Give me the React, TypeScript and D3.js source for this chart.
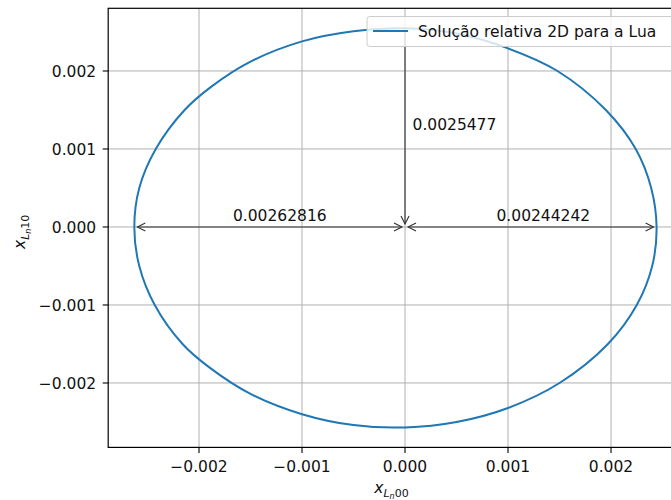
import React from "react";
import * as d3 from "d3";

// Orbit points (data units)
const orbitX = [
  0.00244242, 0.00239, 0.00224, 0.00195, 0.00148, 0.001, 0.0005, 0.0,
  -0.0005, -0.001, -0.0015, -0.00188, -0.00214, -0.00242, -0.00258, -0.00262816,
  -0.00258, -0.00243, -0.00216, -0.0019, -0.0015, -0.001, -0.0005, 0.0,
  0.0005, 0.001, 0.0015, 0.00197, 0.00225, 0.0024,
];
const orbitY = [
  0.0, 0.0005, 0.001, 0.0015, 0.002, 0.00229, 0.00248, 0.0025477,
  0.00251, 0.00238, 0.00212, 0.0018, 0.0015, 0.001, 0.0005, 0.0,
  -0.0005, -0.001, -0.0015, -0.0018, -0.00214, -0.0024, -0.00254, -0.00257,
  -0.0025, -0.00232, -0.002, -0.0015, -0.001, -0.0005,
];

const xTicks = [-0.002, -0.001, 0, 0.001, 0.002];
const yTicks = [-0.002, -0.001, 0, 0.001, 0.002];
const xTickLabels = ["−0.002", "−0.001", "0.000", "0.001", "0.002"];
const yTickLabels = ["−0.002", "−0.001", "0.000", "0.001", "0.002"];

const leftDist = 0.00262816;
const rightDist = 0.00244242;
const topDist = 0.0025477;
const leftLabelX = -0.001216;
const rightLabelX = 0.001343;
const legendLabel = "Solução relativa 2D para a Lua";

const W = 671;
const H = 500;
const plotLeft = 108.2;
const plotRight = 682.7;
const plotTop = 8.3;
const plotBottom = 447.4;

const FONT = "DejaVu Sans, sans-serif";
const FS = 15.5;

export default function App() {
  const pts: [number, number][] = orbitX.map((x, i) => [x, orbitY[i]]);
  const [xmin, xmax] = d3.extent(orbitX) as [number, number];
  const [ymin, ymax] = d3.extent(orbitY) as [number, number];
  const mx = (xmax - xmin) * 0.05;
  const my = (ymax - ymin) * 0.05;
  const x = d3.scaleLinear().domain([xmin - mx, xmax + mx]).range([plotLeft, plotRight]);
  const y = d3.scaleLinear().domain([ymin - my, ymax + my]).range([plotBottom, plotTop]);

  const line = d3
    .line<[number, number]>()
    .x((d) => x(d[0]))
    .y((d) => y(d[1]))
    .curve(d3.curveCatmullRomClosed.alpha(0.5));

  const arrowColor = "#333";
  const head = 8;
  const hw = 4;
  const openHead = (tx: number, ty: number, dx: number, dy: number, key: string) => {
    const bx = tx - dx * head;
    const by = ty - dy * head;
    const px = -dy * hw;
    const py = dx * hw;
    return (
      <path
        key={key}
        d={`M${bx + px},${by + py}L${tx},${ty}L${bx - px},${by - py}`}
        fill="none"
        stroke={arrowColor}
        strokeWidth={1.1}
      />
    );
  };

  const x0 = x(0);
  const y0 = y(0);
  const shrink = 3;
  const lx1 = x(-leftDist) + shrink;
  const lx2 = x0 - shrink;
  const rx1 = x0 + shrink;
  const rx2 = x(rightDist) - shrink;
  const vy1 = y(topDist) + shrink;
  const vy2 = y0 - shrink;

  return (
    <svg
      width={W}
      height={H}
      style={{ position: "absolute", left: 0, top: 0, background: "#fff" }}
      fontFamily={FONT}
    >
      <defs>
        <clipPath id="plotclip">
          <rect x={plotLeft} y={plotTop} width={plotRight - plotLeft} height={plotBottom - plotTop} />
        </clipPath>
      </defs>
      <rect x={0} y={0} width={W} height={H} fill="#fff" />
      <g stroke="#b0b0b0" strokeWidth={1}>
        {xTicks.map((t) => (
          <line key={"gx" + t} x1={x(t)} x2={x(t)} y1={plotTop} y2={plotBottom} />
        ))}
        {yTicks.map((t) => (
          <line key={"gy" + t} x1={plotLeft} x2={plotRight} y1={y(t)} y2={y(t)} />
        ))}
      </g>
      <g clipPath="url(#plotclip)">
        <path d={line(pts) || ""} fill="none" stroke="#1f77b4" strokeWidth={2} />
      </g>
      <g>
        <line x1={lx1} x2={lx2} y1={y0} y2={y0} stroke={arrowColor} strokeWidth={1.1} />
        {openHead(lx1, y0, -1, 0, "l1")}
        {openHead(lx2, y0, 1, 0, "l2")}
        <line x1={rx1} x2={rx2} y1={y0} y2={y0} stroke={arrowColor} strokeWidth={1.1} />
        {openHead(rx1, y0, -1, 0, "r1")}
        {openHead(rx2, y0, 1, 0, "r2")}
        <line x1={x0} x2={x0} y1={vy1} y2={vy2} stroke={arrowColor} strokeWidth={1.1} />
        {openHead(x0, vy2, 0, 1, "v2")}
        <text x={x(leftLabelX)} y={y0 - 5.5} textAnchor="middle" fontSize={FS} fill="#111">
          {String(leftDist)}
        </text>
        <text x={x(rightLabelX)} y={y0 - 5.5} textAnchor="middle" fontSize={FS} fill="#111">
          {String(rightDist)}
        </text>
        <text x={x0 + 7.5} y={y(topDist / 2) + 2.5} textAnchor="start" fontSize={FS} fill="#111">
          {String(topDist)}
        </text>
      </g>
      <rect
        x={plotLeft}
        y={plotTop}
        width={plotRight - plotLeft}
        height={plotBottom - plotTop}
        fill="none"
        stroke="#000"
        strokeWidth={1.2}
      />
      <g stroke="#000" strokeWidth={1.1}>
        {xTicks.map((t) => (
          <line key={"tx" + t} x1={x(t)} x2={x(t)} y1={plotBottom} y2={plotBottom + 5.5} />
        ))}
        {yTicks.map((t) => (
          <line key={"ty" + t} x1={plotLeft - 5.5} x2={plotLeft} y1={y(t)} y2={y(t)} />
        ))}
      </g>
      <g fontSize={FS} fill="#111">
        {xTicks.map((t, i) => (
          <text key={"lx" + t} x={x(t)} y={plotBottom + 24.5} textAnchor="middle">
            {xTickLabels[i]}
          </text>
        ))}
        {yTicks.map((t, i) => (
          <text key={"ly" + t} x={plotLeft - 12} y={y(t) + 5.6} textAnchor="end">
            {yTickLabels[i]}
          </text>
        ))}
      </g>
      <text x={(plotLeft + plotRight) / 2 - 4} y={493} textAnchor="middle" fontSize={FS} fill="#111">
        <tspan fontStyle="italic">x</tspan>
        <tspan fontStyle="italic" fontSize={11} dy={3.5}>L</tspan>
        <tspan fontStyle="italic" fontSize={8} dy={2.5}>n</tspan>
        <tspan fontSize={11} dy={-2.5}>00</tspan>
      </text>
      <text
        transform={`translate(25, ${(plotTop + plotBottom) / 2 + 4}) rotate(-90)`}
        textAnchor="middle"
        fontSize={FS}
        fill="#111"
      >
        <tspan fontStyle="italic">x</tspan>
        <tspan fontStyle="italic" fontSize={11} dy={3.5}>L</tspan>
        <tspan fontStyle="italic" fontSize={8} dy={2.5}>n</tspan>
        <tspan fontSize={11} dy={-2.5}>10</tspan>
      </text>
      <g>
        <rect
          x={367}
          y={16.5}
          width={310}
          height={30}
          rx={3}
          fill="#fff"
          fillOpacity={0.8}
          stroke="#cccccc"
          strokeWidth={1}
        />
        <line x1={373} x2={408} y1={31} y2={31} stroke="#1f77b4" strokeWidth={2.2} />
        <text x={418} y={36.5} fontSize={FS} fill="#111">
          {legendLabel}
        </text>
      </g>
    </svg>
  );
}
